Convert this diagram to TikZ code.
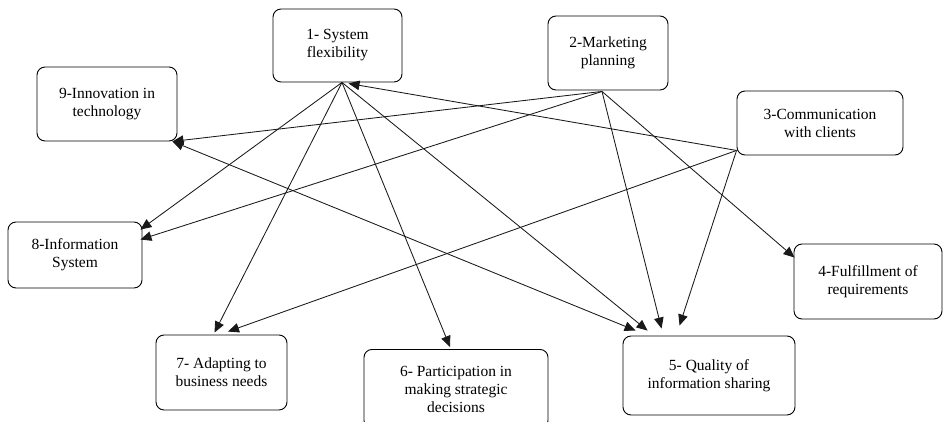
\documentclass[tikz,border=0pt]{standalone}
\usepackage{fontspec}
\setmainfont{Liberation Serif}
\usetikzlibrary{arrows.meta,calc}
\begin{document}
\begin{tikzpicture}[x=1pt,y=-1pt,
  box/.style={draw, rounded corners=8pt, line width=0.9pt, align=center, inner sep=0pt,
    font=\fontsize{15.5}{18}\selectfont},
  tip/.tip={Triangle[length=11pt,width=9.5pt]},
  link/.style={line width=0.85pt, draw=black!90, -tip}]
\useasboundingbox (0,0) rectangle (943,422);
\clip (0,0) rectangle (943,422);
\node[box, minimum width=129pt, minimum height=73pt] (n1) at (337.5,45.5) {1- System\\flexibility};
\node[box, minimum width=120pt, minimum height=74pt] (n2) at (608,53) {2-Marketing\\planning};
\node[box, minimum width=166pt, minimum height=64pt] (n3) at (820,123) {3-Communication\\with clients};
\node[box, minimum width=148pt, minimum height=75pt] (n4) at (868,281.5) {4-Fulfillment of\\requirements};
\node[box, minimum width=172pt, minimum height=79pt] (n5) at (709,375.5) {5- Quality of\\information sharing};
\node[box, minimum width=184pt, minimum height=79pt, anchor=north] (n6) at (456,349) {6- Participation in\\making strategic\\decisions};
\node[box, minimum width=131pt, minimum height=75pt] (n7) at (221.5,372.5) {7- Adapting to\\business needs};
\node[box, minimum width=134pt, minimum height=66pt] (n8) at (75,255) {8-Information\\System};
\node[box, minimum width=140pt, minimum height=74pt] (n9) at (107,104) {9-Innovation in\\technology};
\coordinate (s1) at ($(n1.south)+(4.5,0)$);
\coordinate (s2) at ($(n2.south)+(-6,1)$);
\coordinate (s3) at ($(n3.south west)+(0,-5)$);
\coordinate (s9) at ($(n9.south east)+(-5,0)$);
\draw[link] (s1) -- ($(n8.north east)+(-2,8)$);
\draw[link] (s2) -- ($(n8.north east)+(-2,18)$);
\draw[link] (s1) -- ($(n7.north)+(-7,-2)$);
\draw[link] (s3) -- ($(n7.north)+(6.5,-3)$);
\draw[link] (s1) -- ($(n6.north)+(-6,-2)$);
\draw[link, tip-tip] (s9) -- ($(n5.north west)+(13,-5)$);
\draw[link] (s1) -- ($(n5.north west)+(25,-5)$);
\draw[link] (s2) -- ($(n5.north west)+(39,-7)$);
\draw[link] (s3) -- ($(n5.north west)+(57,-10)$);
\draw[link] (s2) -- ($(n4.north west)+(1,14)$);
\draw[link] (s2) -- (s9);
\draw[link] (s3) -- ($(n1.south)+(11,1)$);
\end{tikzpicture}
\end{document}
